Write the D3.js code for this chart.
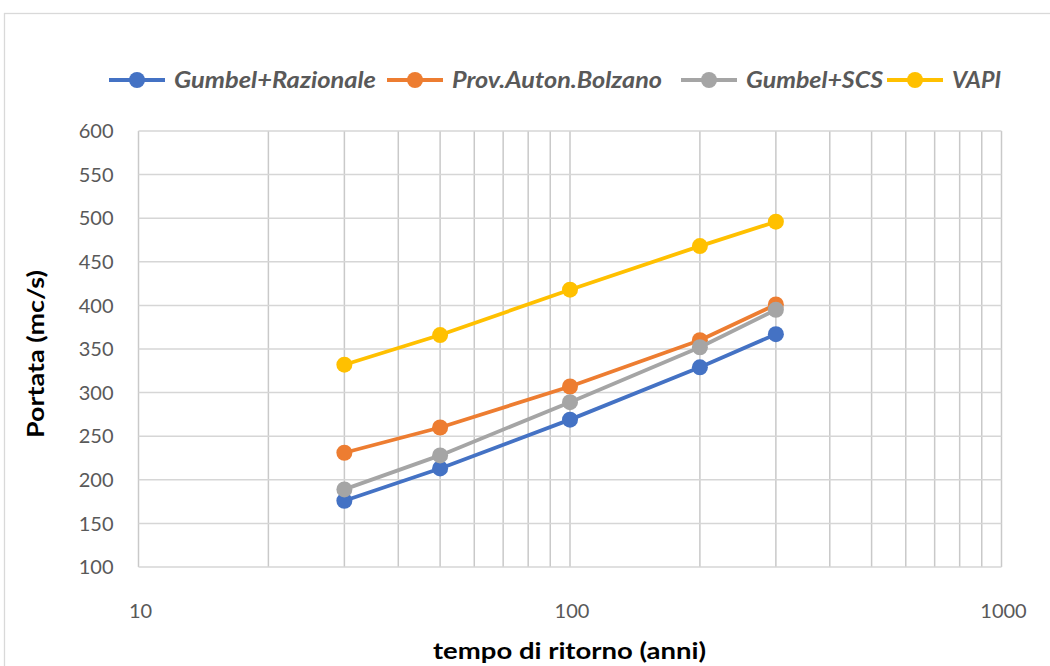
<!DOCTYPE html>
<html><head><meta charset="utf-8">
<script src="https://cdn.jsdelivr.net/npm/d3@7"></script>
<style>body{margin:0;background:#fff}svg{display:block}</style>
</head><body>
<svg id="c" width="1050" height="666"></svg>
<script>
const returnPeriods = [30, 50, 100, 200, 300];
const seriesNames = ["Gumbel+Razionale", "Prov.Auton.Bolzano", "Gumbel+SCS", "VAPI"];
const gumbelRazionale = [176, 213, 269, 329, 367];
const provAutonBolzano = [231, 260, 307, 360, 401];
const gumbelSCS = [189, 228, 289, 352, 395];
const vapi = [332, 366, 418, 468, 496];
const seriesColors = ["#4472C4", "#ED7D31", "#A5A5A5", "#FFC000"];
const yTicks = [100,150,200,250,300,350,400,450,500,550,600];
const xTickLabels = [10, 100, 1000];

const seriesValues = [gumbelRazionale, provAutonBolzano, gumbelSCS, vapi];
const svg = d3.select("#c");
const font = "Lato, 'Open Sans', 'Liberation Sans', sans-serif";

// chart border
svg.append("rect").attr("x",4.5).attr("y",13.5).attr("width",1100).attr("height",700)
  .attr("fill","#fff").attr("stroke","#d9d9d9").attr("stroke-width",1.3);

const L=138.5, R=1001.5, T=131, B=567;
const x = d3.scaleLog().domain([10,1000]).range([L,R]);
const y = d3.scaleLinear().domain([100,600]).range([B,T]);

// vertical gridlines (major + minor)
const vgrid = [];
for (let d=10; d<=100; d*=10) for (let k=1;k<10;k++) vgrid.push(d*k);
vgrid.push(1000);
svg.append("g").selectAll("line").data(vgrid).join("line")
  .attr("x1",d=>x(d)).attr("x2",d=>x(d)).attr("y1",T).attr("y2",B)
  .attr("stroke","#c9c9c9").attr("stroke-width",1.5);
svg.append("g").selectAll("line").data(yTicks).join("line")
  .attr("x1",L).attr("x2",R).attr("y1",d=>y(d)).attr("y2",d=>y(d))
  .attr("stroke","#d6d6d6").attr("stroke-width",1.5);

// y tick labels
svg.append("g").selectAll("text").data(yTicks).join("text")
  .attr("x",L-25).attr("y",d=>y(d)).attr("dy","0.36em").attr("text-anchor","end")
  .attr("font-family",font).attr("font-size",20).attr("fill","#595959").text(d=>d);
// x tick labels
svg.append("g").selectAll("text").data(xTickLabels).join("text")
  .attr("x",d=>x(d)+2).attr("y",618).attr("text-anchor","middle")
  .attr("font-family",font).attr("font-size",20).attr("fill","#595959").text(d=>d);

// axis titles
svg.append("text").attr("x",433).attr("y",659)
  .attr("font-family",font).attr("font-weight","bold").attr("font-size",23).attr("fill","#000")
  .attr("textLength",273).attr("lengthAdjust","spacingAndGlyphs")
  .text("tempo di ritorno (anni)");
svg.append("text").attr("transform","translate(44,438) rotate(-90)")
  .attr("font-family",font).attr("font-weight","bold").attr("font-size",23).attr("fill","#000")
  .attr("textLength",168).attr("lengthAdjust","spacingAndGlyphs")
  .text("Portata (mc/s)");

// series
const line = d3.line().x((d,i)=>x(returnPeriods[i])).y(d=>y(d));
seriesValues.forEach((vals,si)=>{
  const g = svg.append("g");
  g.append("path").attr("d",line(vals)).attr("fill","none")
    .attr("stroke",seriesColors[si]).attr("stroke-width",3.8).attr("stroke-linejoin","round");
  g.selectAll("circle").data(vals).join("circle")
    .attr("cx",(d,i)=>x(returnPeriods[i])).attr("cy",d=>y(d)).attr("r",8)
    .attr("fill",seriesColors[si]);
});

// legend
const legendX = [109, 387, 681, 887];
const legendTextLen = [202, 210, 137, 49];
const legend = svg.append("g");
seriesNames.forEach((name,i)=>{
  const lx = legendX[i], ly = 80;
  legend.append("line").attr("x1",lx).attr("x2",lx+56).attr("y1",ly).attr("y2",ly)
    .attr("stroke",seriesColors[i]).attr("stroke-width",3.8);
  legend.append("circle").attr("cx",lx+28).attr("cy",ly).attr("r",8).attr("fill",seriesColors[i]);
  legend.append("text").attr("x",lx+65).attr("y",ly).attr("dy","0.36em")
    .attr("font-family",font).attr("font-weight","bold").attr("font-style","italic")
    .attr("font-size",22).attr("fill","#595959")
    .attr("textLength",legendTextLen[i]).attr("lengthAdjust","spacingAndGlyphs").text(name);
});
</script>
</body></html>
